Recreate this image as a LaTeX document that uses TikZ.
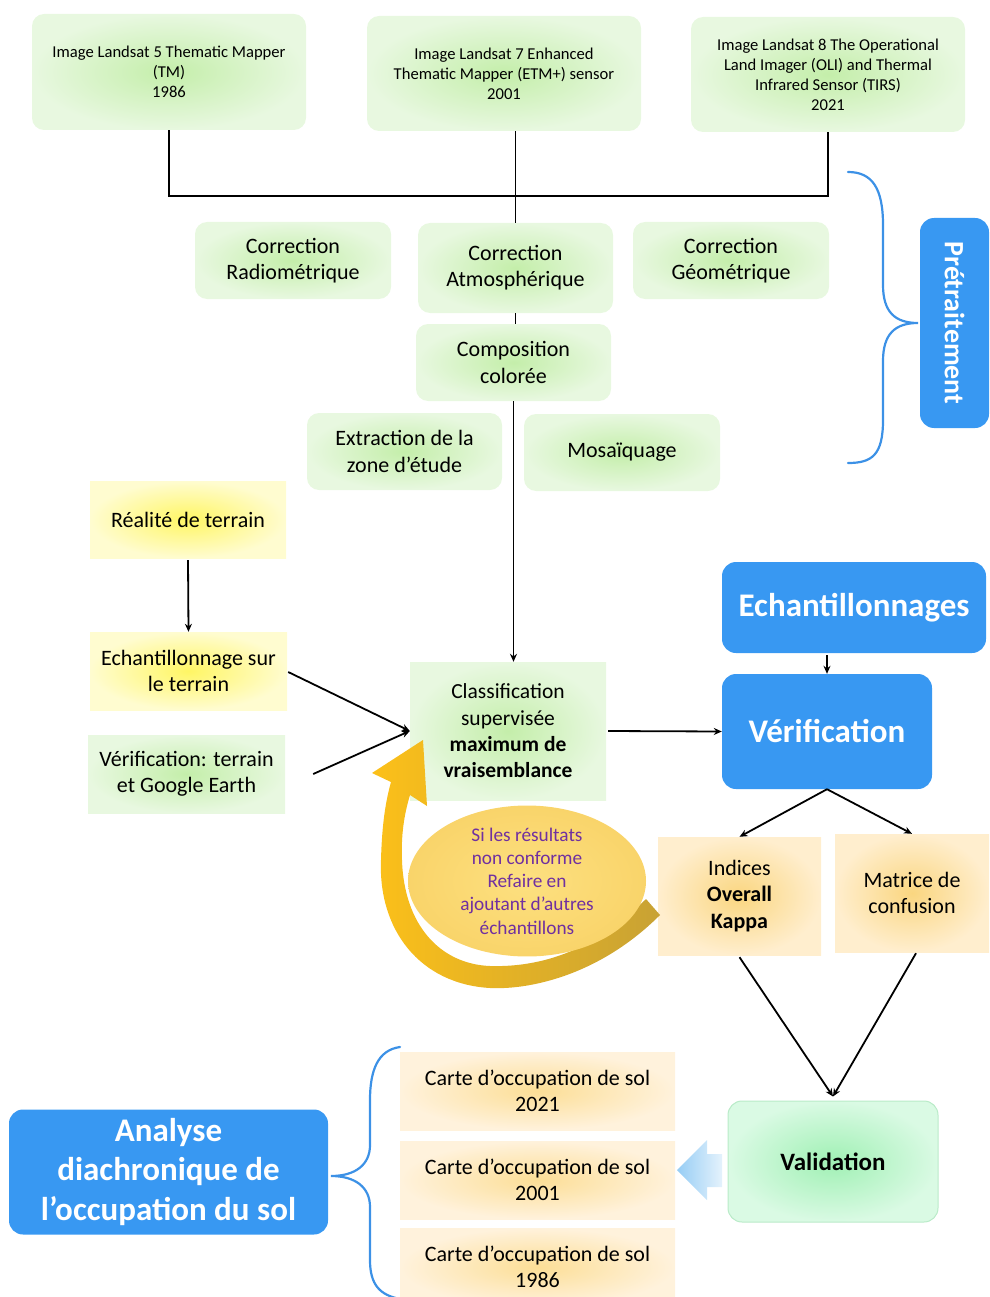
\documentclass[tikz,border=0pt]{standalone}
\usepackage{fontspec}
\setmainfont{Carlito}
\usetikzlibrary{shapes.geometric,arrows.meta}
\definecolor{gIn}{RGB}{196,238,170}
\definecolor{gOut}{RGB}{232,248,224}
\definecolor{yIn}{RGB}{255,246,100}
\definecolor{yOut}{RGB}{255,252,208}
\definecolor{oIn}{RGB}{250,214,128}
\definecolor{oOut}{RGB}{255,238,206}
\definecolor{cIn}{RGB}{252,222,150}
\definecolor{cOut}{RGB}{255,242,220}
\definecolor{vIn}{RGB}{160,240,180}
\definecolor{vOut}{RGB}{218,250,228}
\definecolor{vBorder}{RGB}{185,235,200}
\definecolor{bBlue}{RGB}{56,152,242}
\definecolor{brBlue}{RGB}{60,145,230}
\definecolor{elIn}{RGB}{253,224,128}
\definecolor{elOut}{RGB}{249,212,106}
\definecolor{purp}{RGB}{112,48,160}
\definecolor{arA}{RGB}{252,192,25}
\definecolor{arB}{RGB}{200,162,52}
\definecolor{baL}{RGB}{150,205,245}
\definecolor{baR}{RGB}{228,242,252}
\newcommand{\fsA}{\fontsize{16.6}{20}\selectfont}
\newcommand{\fsB}{\fontsize{22}{26.3}\selectfont}
\newcommand{\fsE}{\fontsize{19.3}{23.3}\selectfont}
\tikzset{
  gbox/.style={rounded corners=12pt, inner color=gIn, outer color=gOut, align=center, inner sep=0pt, font=\fsB},
  gsq/.style={inner color=gIn, outer color=gOut, align=center, inner sep=0pt, font=\fsB},
  ysq/.style={inner color=yIn, outer color=yOut, align=center, inner sep=0pt, font=\fsB},
  osq/.style={inner color=oIn, outer color=oOut, align=center, inner sep=0pt, font=\fsB},
  csq/.style={inner color=cIn, outer color=cOut, align=center, inner sep=0pt, font=\fsB},
  bbox/.style={rounded corners=14pt, fill=bBlue, text=white, align=center, inner sep=0pt},
  conn/.style={line width=1.8pt, black},
  arr/.style={conn, -{Stealth[length=8pt,width=7pt]}},
  brace/.style={line width=2.2pt, brBlue, line cap=round},
}
\begin{document}
\begin{tikzpicture}[x=1pt,y=-1pt]
\useasboundingbox (0,0) rectangle (989,1297);
% top image boxes
\node[gbox, font=\fsA, minimum width=274, minimum height=116] (l5) at (169,72) {Image Landsat 5 Thematic Mapper\\(TM)\\1986};
\node[gbox, font=\fsA, minimum width=274, minimum height=115] (l7) at (504,73.5) {Image Landsat 7 Enhanced\\Thematic Mapper (ETM+) sensor\\2001};
\node[gbox, font=\fsA, minimum width=274, minimum height=115] (l8) at (828,74.5) {Image Landsat 8 The Operational\\Land Imager (OLI) and Thermal\\Infrared Sensor (TIRS)\\2021};
% corrections
\node[gbox, minimum width=196, minimum height=77] (cr) at (293,260.5) {Correction\\Radiométrique};
\node[gbox, minimum width=195, minimum height=90] (ca) at (515.5,268) {Correction\\Atmosphérique};
\node[gbox, minimum width=196, minimum height=77] (cg) at (731,260.5) {Correction\\Géométrique};
\node[gbox, minimum width=195, minimum height=77] (comp) at (513.5,362.5) {Composition\\colorée};
\node[gbox, minimum width=195, minimum height=77] (extr) at (404.5,451.5) {Extraction de la\\zone d’étude};
\node[gbox, minimum width=196, minimum height=77] (mos) at (622,452.5) {Mosaïquage};
% pretraitement
\node[bbox, rotate=-90, minimum width=210, minimum height=69, font=\fontsize{28}{32}\selectfont\bfseries] (pre) at (954.5,323) {Prétraitement};
\draw[brace] (848,172) .. controls (872,172) and (883,188) .. (883,225) -- (883,285)
  .. controls (883,312) and (895,323) .. (918,323)
  .. controls (895,323) and (883,334) .. (883,361) -- (883,420)
  .. controls (883,455) and (872,463) .. (848,463);
% left column
\node[ysq, minimum width=196, minimum height=77] (real) at (188,519.5) {Réalité de terrain};
\node[ysq, minimum width=197, minimum height=78] (echt) at (188.5,671) {Echantillonnage sur\\le terrain};
\node[gsq, minimum width=197, minimum height=78] (vt) at (186.5,774) {Vérification: terrain\\et Google Earth};
\node[gsq, minimum width=196, minimum height=138, font=\fontsize{21.5}{26.4}\selectfont] (classif) at (508,731) {Classification\\supervisée\\\textbf{maximum de}\\\textbf{vraisemblance}};
% blue boxes right
\node[bbox, minimum width=264, minimum height=91, font=\fontsize{33}{38}\selectfont\bfseries] (echs) at (854,607.5) {Echantillonnages};
\node[bbox, minimum width=210, minimum height=115, font=\fontsize{33}{38}\selectfont\bfseries] (verif) at (827,731.5) {Vérification};
\node[osq, minimum width=163, minimum height=118] (ind) at (739.5,896) {Indices\\\textbf{Overall}\\\textbf{Kappa}};
\node[osq, minimum width=154, minimum height=118] (mat) at (912,893) {Matrice de\\confusion};
\node[rounded corners=14pt, inner color=vIn, outer color=vOut, draw=vBorder, line width=1pt, minimum width=210, minimum height=121, inner sep=0pt, font=\fontsize{25}{28}\selectfont\bfseries] (val) at (833,1161.5) {Validation};
% cartes
\node[csq, minimum width=275, minimum height=78] (c21) at (537.5,1091) {Carte d’occupation de sol\\2021};
\node[csq, minimum width=275, minimum height=78] (c01) at (537.5,1180) {Carte d’occupation de sol\\2001};
\node[csq, minimum width=275, minimum height=78] (c86) at (537.5,1267) {Carte d’occupation de sol\\1986};
\node[bbox, minimum width=319, minimum height=125, font=\fontsize{33}{39.5}\selectfont\bfseries] (ana) at (168.5,1172) {Analyse\\diachronique de\\l’occupation du sol};
\draw[brace] (400,1047) .. controls (378,1050) and (370,1070) .. (370,1100) -- (370,1145)
  .. controls (370,1165) and (355,1176) .. (331,1176)
  .. controls (355,1176) and (370,1187) .. (370,1207) -- (370,1260)
  .. controls (370,1285) and (380,1295) .. (400,1299);
% feedback arrow
\shade[left color=arA, right color=arB] (660,915) .. controls (600,975) and (530,990) .. (490,988)
  .. controls (420,984) and (378,930) .. (381,860) .. controls (382,822) and (386,800) .. (391,782)
  -- (372,773) -- (423,740) -- (427,806) -- (410,795)
  .. controls (404,815) and (401,835) .. (402,860) .. controls (404,925) and (440,964) .. (490,966)
  .. controls (560,968) and (610,935) .. (646,899) -- cycle;
\node[ellipse, inner color=elIn, outer color=elOut, minimum width=238, minimum height=125, inner sep=0pt, align=center, text=purp, font=\fsE] (el) at (527,881) {Si les résultats\\non conforme\\Refaire en\\ajoutant d’autres\\échantillons};
% blue block arrow
\shade[left color=baL, right color=baR] (677,1170) -- (707,1140) -- (707,1154) -- (722,1154) -- (722,1187) -- (707,1187) -- (707,1200) -- cycle;
% connectors
\draw[conn] (l5.south) |- (l8.south |- 0,196) -- (l8.south);
\draw[conn] (ca.north |- l7.south) -- (ca.north);
\draw[conn] (ca.south) -- (ca.south |- comp.north);
\draw[arr] (comp.south) -- (comp.south |- classif.north);
\draw[arr] ([yshift=-2pt]real.south) -- (echt.north);
\draw[arr] ([xshift=1pt,yshift=-1pt]echt.east) -- (classif.west);
\draw[arr] ([xshift=28pt]vt.east) -- (classif.west);
\draw[arr] ([xshift=2pt]classif.east) -- (verif.west);
\draw[arr] ([yshift=-2pt]verif.north |- echs.south) -- (verif.north);
\draw[arr] (verif.south) -- (ind.north);
\draw[arr] (verif.south) -- (mat.north);
\draw[arr] ([yshift=-2pt]ind.south) -- ([yshift=4pt]val.north);
\draw[arr] ([xshift=4pt,yshift=-1pt]mat.south) -- ([yshift=4pt]val.north);
\end{tikzpicture}
\end{document}
